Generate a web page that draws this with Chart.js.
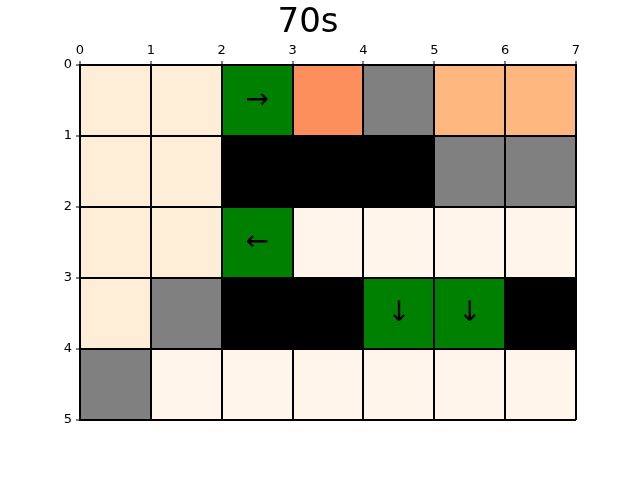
<!DOCTYPE html>
<html>
<head>
<meta charset="utf-8">
<script src="https://cdn.jsdelivr.net/npm/chart.js@4/dist/chart.umd.min.js"></script>
<style>
html,body{margin:0;padding:0;background:#fff;}
#wrap{width:640px;height:480px;}
</style>
</head>
<body>
<div id="wrap"><canvas id="c" width="640" height="480"></canvas></div>
<script>
// ---- data ----
const titleText = '70s';
const xTicks = [0, 1, 2, 3, 4, 5, 6, 7];
const yTicks = [0, 1, 2, 3, 4, 5];
// cell codes per row (top row first): c=cream visit, l=light visit, o=orange visit,
// a=light-orange visit, g=gray, w=wall (black), p=path (green)
const row0 = ['c', 'c', 'p', 'o', 'g', 'a', 'a'];
const row1 = ['c', 'c', 'w', 'w', 'w', 'g', 'g'];
const row2 = ['c', 'c', 'p', 'l', 'l', 'l', 'l'];
const row3 = ['c', 'g', 'w', 'w', 'p', 'p', 'w'];
const row4 = ['g', 'l', 'l', 'l', 'l', 'l', 'l'];
const arrows0 = ['', '', '→', '', '', '', ''];
const arrows1 = ['', '', '', '', '', '', ''];
const arrows2 = ['', '', '←', '', '', '', ''];
const arrows3 = ['', '', '', '', '↓', '↓', ''];
const arrows4 = ['', '', '', '', '', '', ''];
const palette = { c: '#feedd7', l: '#fff5eb', o: '#fd8f5c', a: '#fdb77f', g: '#808080', w: '#000000', p: '#008000' };

const rows = [row0, row1, row2, row3, row4];
const arrowRows = [arrows0, arrows1, arrows2, arrows3, arrows4];

const cells = [];
const colors = [];
rows.forEach((row, r) => row.forEach((code, c) => {
  cells.push({ x: [c, c + 1], y: r + 0.5 });
  colors.push(palette[code]);
}));

const arrowPlugin = {
  id: 'arrows',
  afterDraw(chart) {
    const ctx = chart.ctx, xs = chart.scales.x, ys = chart.scales.y;
    ctx.save();
    ctx.fillStyle = '#000';
    ctx.font = '28px "DejaVu Sans"';
    ctx.textAlign = 'center';
    ctx.textBaseline = 'middle';
    arrowRows.forEach((row, r) => row.forEach((ch, c) => {
      if (!ch) return;
      ctx.fillText(ch, xs.getPixelForValue(c + 0.5), ys.getPixelForValue(r + 0.5));
    }));
    ctx.restore();
  }
};

Chart.defaults.font.family = '"DejaVu Sans"';
Chart.defaults.color = '#000';

new Chart(document.getElementById('c'), {
  type: 'bar',
  data: {
    datasets: [{
      data: cells,
      backgroundColor: colors,
      borderWidth: 0,
      barPercentage: 1,
      categoryPercentage: 1,
      grouped: false
    }]
  },
  plugins: [arrowPlugin],
  options: {
    indexAxis: 'y',
    responsive: false,
    animation: false,
    layout: { padding: { left: 40, right: 64, top: 0, bottom: 60 } },
    plugins: {
      legend: { display: false },
      tooltip: { enabled: false },
      title: {
        display: true,
        text: titleText,
        font: { size: 34, weight: 'normal', lineHeight: 1 },
        color: '#000',
        padding: { top: 6, bottom: 1 }
      }
    },
    scales: {
      x: {
        type: 'linear',
        position: 'top',
        min: 0, max: 7,
        offset: false,
        afterBuildTicks: s => { s.ticks = xTicks.map(v => ({ value: v })); },
        afterFit: s => { s.height = 24; },
        ticks: { font: { size: 13 }, color: '#000', padding: 3, maxRotation: 0 },
        grid: { z: 1, offset: false, color: '#000', lineWidth: 2, tickLength: 4, tickWidth: 1, tickColor: '#000' },
        border: { z: 1, color: '#000', width: 2 }
      },
      y: {
        type: 'linear',
        reverse: true,
        min: 0, max: 5,
        offset: false,
        afterBuildTicks: s => { s.ticks = yTicks.map(v => ({ value: v })); },
        afterFit: s => { s.width = 40; },
        ticks: { font: { size: 13 }, color: '#000', padding: 4 },
        grid: { z: 1, offset: false, color: '#000', lineWidth: 2, tickLength: 4, tickWidth: 1, tickColor: '#000' },
        border: { z: 1, color: '#000', width: 2 }
      }
    }
  }
});
</script>
</body>
</html>
